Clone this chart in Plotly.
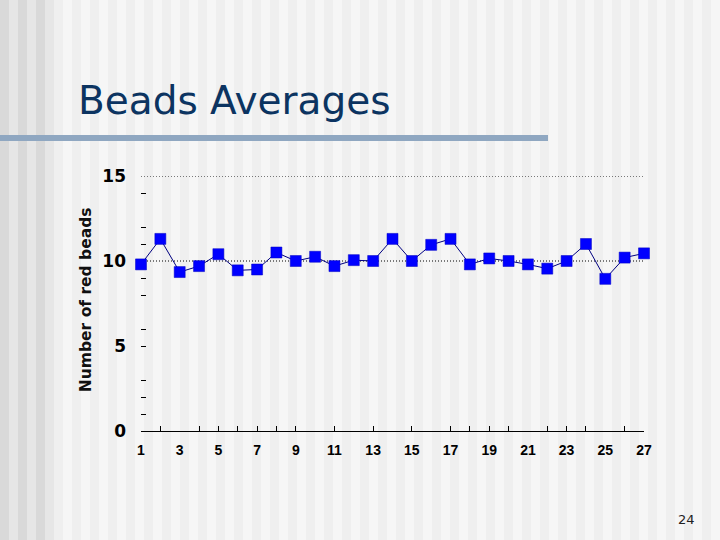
import plotly.graph_objects as go

# ---- data ----
samples = list(range(1, 28))
averages = [9.8, 11.3, 9.35, 9.7, 10.4, 9.45, 9.5, 10.5, 10.0, 10.25,
            9.7, 10.05, 10.0, 11.3, 10.0, 10.95, 11.3, 9.8, 10.15, 10.0,
            9.8, 9.55, 10.0, 11.0, 8.95, 10.2, 10.45]
x_label_vals = list(range(1, 28, 2))
x_tick_vals = [2, 4, 5, 6, 7, 8, 9, 11, 13, 15, 17, 18, 19, 20, 22, 23, 24, 26]
y_label_vals = [0, 5, 10, 15]
y_tick_vals = [1, 2, 3, 5, 6, 8, 9, 11, 12, 14]
ref_lines = [10, 15]

W, H = 720, 540
L, R, T, B = 141, 644, 176, 430.7

def px(xp):
    return (xp - L) / (R - L)

def py(yp):
    return (B - yp) / (B - T)

fig = go.Figure()

# data line
fig.add_trace(go.Scatter(
    x=samples, y=averages, mode="lines+markers",
    line=dict(color="#000080", width=1),
    marker=dict(symbol="square", size=11, color="#0000ff",
                line=dict(color="#0000c0", width=0.5)),
    cliponaxis=False, showlegend=False, hoverinfo="x+y"))

# invisible traces carrying the labelled axes
fig.add_trace(go.Scatter(x=x_label_vals, y=[None] * len(x_label_vals),
                         xaxis="x2", showlegend=False, hoverinfo="skip"))
fig.add_trace(go.Scatter(x=[None], y=y_label_vals, yaxis="y2",
                         showlegend=False, hoverinfo="skip"))

shapes = []
# background stripes
xs = 0
i = 0
while xs < W:
    if xs < 52:
        col = "#d9d9d9" if i % 2 == 0 else "#e6e6e6"
    else:
        col = "#efefef" if i % 2 == 0 else "#f6f6f6"
    w = 9
    shapes.append(dict(type="rect", xref="paper", yref="paper",
                       x0=px(xs), x1=px(xs + w), y0=py(H), y1=py(0),
                       fillcolor=col, line=dict(width=0), layer="below"))
    xs += w
    i += 1

# title underline bar
shapes.append(dict(type="rect", xref="paper", yref="paper",
                   x0=px(0), x1=px(548), y0=py(141), y1=py(135),
                   fillcolor="#8fa7c1", line=dict(width=0), layer="below"))

# dotted reference lines
for v in ref_lines:
    shapes.append(dict(type="line", xref="paper", yref="y",
                       x0=0, x1=1, y0=v, y1=v,
                       line=dict(color="#000000", width=1, dash="1px,2px"),
                       layer="below"))

annotations = [
    dict(text="Beads Averages", xref="paper", yref="paper",
         x=px(76), y=py(101), xanchor="left", yanchor="middle",
         showarrow=False,
         font=dict(family="DejaVu Sans", size=39, color="#0c3461")),
    dict(text="Number of red beads", xref="paper", yref="paper",
         x=px(86), y=py(300), xanchor="center", yanchor="middle",
         textangle=-90, showarrow=False,
         font=dict(family="DejaVu Sans", size=15.5, color="#111111",
                   weight="bold")),
    dict(text="24", xref="paper", yref="paper",
         x=px(686), y=py(519), xanchor="center", yanchor="middle",
         showarrow=False,
         font=dict(family="DejaVu Sans", size=13, color="#222222")),
]

fig.update_layout(
    width=W, height=H,
    margin=dict(l=L, r=W - R, t=T, b=H - B, pad=0),
    paper_bgcolor="#f2f2f2", plot_bgcolor="rgba(0,0,0,0)",
    shapes=shapes, annotations=annotations,
    xaxis=dict(range=[1, 27], showgrid=False, zeroline=False,
               showline=True, linecolor="#000000", linewidth=1,
               tickmode="array", tickvals=x_tick_vals,
               ticktext=[""] * len(x_tick_vals),
               ticks="inside", ticklen=5, tickcolor="#000000", tickwidth=1),
    xaxis2=dict(range=[1, 27], overlaying="x", side="bottom",
                showgrid=False, zeroline=False, showline=False,
                tickmode="array", tickvals=x_label_vals,
                ticktext=[str(v) for v in x_label_vals],
                ticks="", ticklabelstandoff=9,
                tickfont=dict(family="Liberation Sans", size=14,
                              color="#000000", weight="bold")),
    yaxis=dict(range=[0, 15], showgrid=False, zeroline=False,
               showline=False, tickmode="array", tickvals=y_tick_vals,
               ticktext=[""] * len(y_tick_vals),
               ticks="inside", ticklen=5, tickcolor="#000000", tickwidth=1),
    yaxis2=dict(range=[0, 15], overlaying="y", side="left",
                showgrid=False, zeroline=False, showline=False,
                tickmode="array", tickvals=y_label_vals,
                ticktext=[str(v) for v in y_label_vals],
                ticks="", ticklabelstandoff=14,
                tickfont=dict(family="DejaVu Sans", size=17,
                              color="#000000", weight="bold")),
)

fig.write_html("out.html", config={"displayModeBar": False},
               post_script="document.body.style.margin='0';"
                           "document.body.style.overflow='hidden';")
